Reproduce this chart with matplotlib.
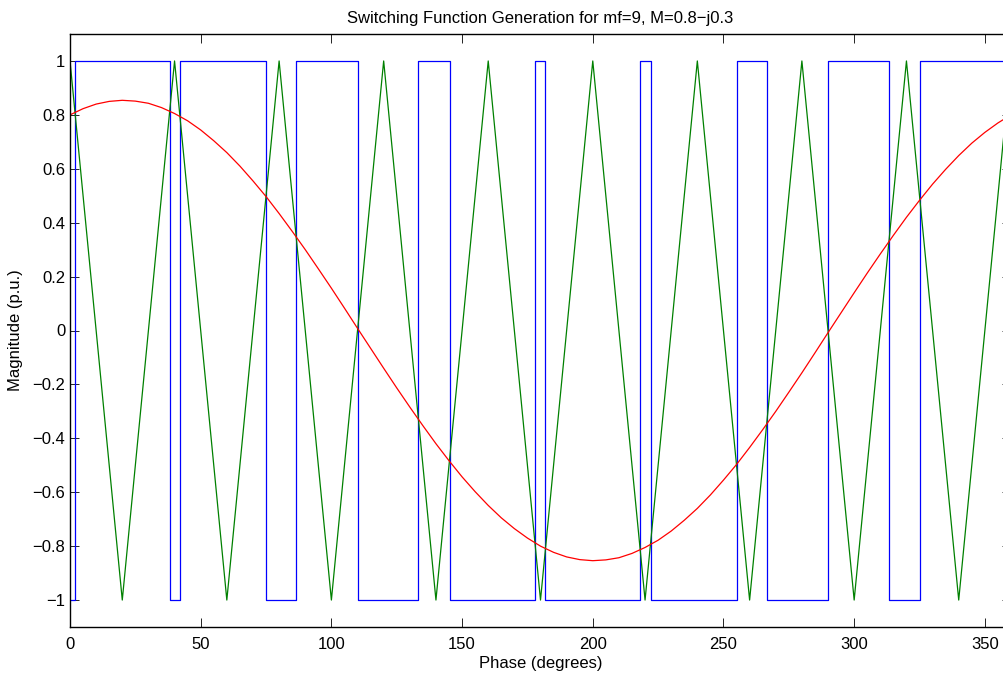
import matplotlib
matplotlib.use("Agg")
import matplotlib.pyplot as plt

plt.rcParams['font.family'] = ['Liberation Sans', 'DejaVu Sans']

# triangular carrier (mf=9 -> period 40 deg), vertices
carrier_deg = [0, 20, 40, 60, 80, 100, 120, 140, 160, 180, 200, 220, 240, 260, 280, 300, 320, 340, 360]
carrier_val = [1, -1, 1, -1, 1, -1, 1, -1, 1, -1, 1, -1, 1, -1, 1, -1, 1, -1, 1]

# reference wave, read every 5 deg
ref_deg = list(range(0, 361, 5))
ref_val = [0.800, 0.823, 0.840, 0.850, 0.854, 0.851, 0.843, 0.827, 0.805, 0.778,
           0.744, 0.704, 0.660, 0.610, 0.555, 0.497, 0.434, 0.368, 0.300, 0.229,
           0.157, 0.083, 0.008, -0.066, -0.140, -0.213, -0.284, -0.353, -0.420, -0.483,
           -0.543, -0.598, -0.649, -0.695, -0.735, -0.770, -0.800, -0.823, -0.840, -0.850,
           -0.854, -0.851, -0.843, -0.827, -0.805, -0.778, -0.744, -0.704, -0.660, -0.610,
           -0.555, -0.497, -0.434, -0.368, -0.300, -0.229, -0.157, -0.083, -0.008, 0.066,
           0.140, 0.213, 0.284, 0.353, 0.420, 0.483, 0.543, 0.598, 0.649, 0.695,
           0.735, 0.770, 0.800]

# switching function edges and levels
sw_edges = [0, 1.9, 38.2, 42.1, 75.0, 86.5, 110.1, 133.3, 145.2, 177.9, 181.9,
            218.2, 222.1, 255.0, 266.5, 290.1, 313.3, 325.2, 357.9, 360]
sw_level = [-1, 1, -1, 1, -1, 1, -1, 1, -1, 1, -1, 1, -1, 1, -1, 1, -1, 1, -1, -1]

fig = plt.figure(figsize=(10.04, 6.74), dpi=100)
ax = fig.add_axes([70 / 1004, 47 / 674, 941 / 1004, 593 / 674])

ax.plot(sw_edges, sw_level, color=(0, 0, 1), lw=0.9, drawstyle='steps-post')
ax.plot(carrier_deg, carrier_val, color=(0, 0.5, 0), lw=0.9)
ax.plot(ref_deg, ref_val, color=(1, 0, 0), lw=0.9)

ax.set_xlim(0, 360)
ax.set_ylim(-1.1, 1.1)
ax.set_xticks(range(0, 351, 50))
yt = [-1, -0.8, -0.6, -0.4, -0.2, 0, 0.2, 0.4, 0.6, 0.8, 1]
ax.set_yticks(yt)
ax.set_yticklabels([('%g' % v).replace('-', '\u2212') for v in yt])
ax.tick_params(direction='in', top=True, right=True, length=6.5, width=0.6, labelsize=12)
ax.tick_params(axis='x', pad=7)
for s in ax.spines.values():
    s.set_linewidth(1.0)

ax.set_title('Switching Function Generation for mf=9, M=0.8\u2212j0.3', fontsize=12, pad=8)
ax.set_xlabel('Phase (degrees)', fontsize=12, labelpad=3)
ax.set_ylabel('Magnitude (p.u.)', fontsize=12, labelpad=7)

fig.savefig('out.png', dpi=100)
